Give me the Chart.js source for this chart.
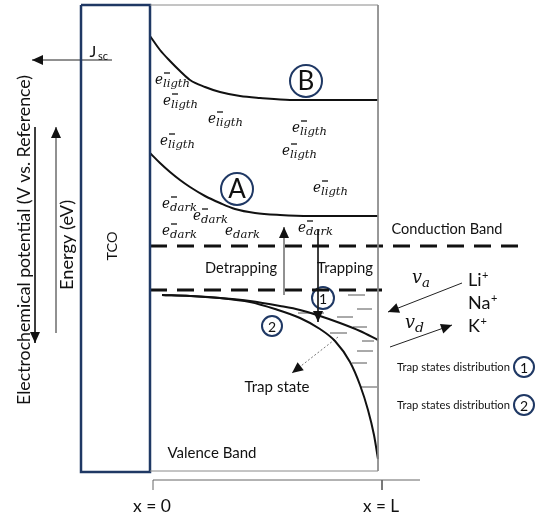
<!DOCTYPE html>
<html>
<head>
<meta charset="utf-8">
<script src="https://cdn.jsdelivr.net/npm/chart.js@4.4.1/dist/chart.umd.min.js"></script>
<style>
html,body{margin:0;padding:0;background:#fff;}
canvas{display:block;}
</style>
</head>
<body>
<canvas id="c" width="536" height="519"></canvas>
<script>
// ---- data (diagram coordinates: x to the right, y = energy drawn downward) ----
const curveB = [[150,36],[160,50],[170,61],[180,71],[190,80],[205,87],[220,92],[240,96],[260,98],[290,100],[378,100]];
const curveA = [[150,153],[160,163],[170,172],[180,180],[190,187],[205,196],[220,203],[235,209],[255,213],[280,215],[310,216],[378,216]];
const trapDist1 = [[162,295],[190,296],[220,298],[250,301],[280,306],[300,310],[320,316],[340,323],[360,331],[378,340]];
const trapDist2 = [[162,295],[190,296],[220,298],[250,302],[275,309],[300,318],[320,329],[335,341],[350,362],[360,385],[368,410],[374,435],[378,459]];
const conductionLevel = [[150,246],[520,246]];
const trapLevel = [[150,290],[382,290]];
const trapStates = [[348,365,295],[357,372,309],[298,324,313],[337,353,317],[353,367,327],[330,347,333],[362,374,341],[357,373,351],[352,367,363],[360,377,387]];
const tcoBox = [[81,5],[150,5],[150,472],[81,472],[81,5]];
const frame = [[150,5],[378,5],[378,471],[150,471]];
const xAxis = [[153,490],[153,480],[420,480]];
const xTickL = [[382,480],[382,490]];
const arrows = {
  jsc: [[112,60],[32,60]],
  potential: [[35,127],[35,343]],
  energy: [[56,333],[56,127]],
  detrap: [[284,295],[284,227]],
  trap: [[318,229],[318,322]],
  va: [[462,283],[388,312]],
  vd: [[390,347],[452,325]]
};
const trapStateArrow = [[338,337],[292,373]];
const circleLabels = ['B','A','1','2','1','2'];
const circlePos = [[306,81],[237,189],[323,298],[272,326],[524,367],[524,405]];
const circleR = [16,16,11,10,10,10];
const eLightPos = [[155,84],[163,105],[208,123],[160,145],[292,132],[282,155],[313,192]];
const eDarkPos = [[162,208,true],[193,220,true],[162,235,true],[225,235,false],[298,232,true]];
const ions = ['Li','Na','K'];
const ionY = [280,303,326];

const NAVY = '#1f3864';
const pts = a => a.map(p => ({x:p[0], y:p[1]}));
const lineDs = (data, opt={}) => Object.assign({data, showLine:true, pointRadius:0, borderColor:'#111', borderWidth:1, fill:false, clip:false, tension:0}, opt);

const trapData = [];
trapStates.forEach(t => { trapData.push({x:t[0],y:t[2]},{x:t[1],y:t[2]},{x:t[1],y:null}); });

const datasets = [
  lineDs(pts(frame), {borderColor:'#8a8a8a', borderWidth:1}),
  lineDs(pts(xAxis), {borderColor:'#666', borderWidth:1}),
  lineDs(pts(xTickL), {borderColor:'#666', borderWidth:1}),
  lineDs(pts(tcoBox), {borderColor:NAVY, borderWidth:2.5}),
  lineDs(pts(curveB), {borderWidth:2, cubicInterpolationMode:'monotone'}),
  lineDs(pts(curveA), {borderWidth:2, cubicInterpolationMode:'monotone'}),
  lineDs(pts(trapDist1), {borderWidth:2, cubicInterpolationMode:'monotone'}),
  lineDs(pts(trapDist2), {borderWidth:2, cubicInterpolationMode:'monotone'}),
  lineDs(pts(conductionLevel), {borderWidth:3, borderDash:[17,10]}),
  lineDs(pts(trapLevel), {borderWidth:3, borderDash:[17,10]}),
  lineDs(trapData, {borderColor:'#555', borderWidth:1, spanGaps:false}),
  lineDs(pts(trapStateArrow), {borderColor:'#777', borderWidth:1, borderDash:[2,2], arrow:true}),
];
Object.keys(arrows).forEach(k => datasets.push(lineDs(pts(arrows[k]), {borderColor:'#222', borderWidth:1, arrow:true})));
circlePos.forEach((c,i) => datasets.push({data:[{x:c[0],y:c[1]}], showLine:false, pointStyle:'circle', pointRadius:circleR[i], pointBorderWidth:2, pointBorderColor:NAVY, pointBackgroundColor:'rgba(255,255,255,0)', clip:false}));

function txt(ctx, s, x, y, font, o={}) {
  ctx.save();
  ctx.font = font;
  ctx.fillStyle = o.color || '#111';
  ctx.textAlign = o.align || 'center';
  ctx.textBaseline = o.base || 'middle';
  ctx.translate(x, y);
  if (o.rot) ctx.rotate(o.rot);
  if (o.w) { const m = ctx.measureText(s).width; ctx.scale(o.w/m, 1); }
  ctx.fillText(s, 0, 0);
  ctx.restore();
}

const drawPlugin = {
  id:'diagram',
  afterDatasetsDraw(chart) {
    const ctx = chart.ctx, X = v => chart.scales.x.getPixelForValue(v), Y = v => chart.scales.y.getPixelForValue(v);
    // arrowheads
    chart.data.datasets.forEach(ds => {
      if (!ds.arrow) return;
      const n = ds.data.length, a = ds.data[n-2], b = ds.data[n-1];
      const x1 = X(a.x), y1 = Y(a.y), x2 = X(b.x), y2 = Y(b.y);
      const ang = Math.atan2(y2-y1, x2-x1), L = 11, W = 5;
      ctx.save();
      ctx.fillStyle = '#111';
      ctx.translate(x2, y2); ctx.rotate(ang);
      ctx.beginPath(); ctx.moveTo(0,0); ctx.lineTo(-L, -W); ctx.lineTo(-L, W); ctx.closePath(); ctx.fill();
      ctx.restore();
    });
    const SANS = 'Lato, "Open Sans", sans-serif';
    // circle labels
    circlePos.forEach((c,i) => {
      const big = circleR[i] > 12;
      txt(ctx, circleLabels[i], X(c[0]), Y(c[1]) + 1, (big ? '26px ' : '14px ') + SANS);
    });
    // left side
    txt(ctx, 'Electrochemical potential (V vs. Reference)', X(25), Y(240), '17px ' + SANS, {rot:-Math.PI/2, w:330});
    txt(ctx, 'Energy (eV)', X(68), Y(245), '17px ' + SANS, {rot:-Math.PI/2, w:90});
    txt(ctx, 'TCO', X(113), Y(246), '13px ' + SANS, {rot:-Math.PI/2, w:29});
    txt(ctx, 'J', X(93), Y(52), '16px ' + SANS);
    txt(ctx, 'sc', X(103), Y(56), '11px ' + SANS);
    // band labels
    txt(ctx, 'Conduction Band', X(447), Y(229), '15px ' + SANS, {w:111});
    txt(ctx, 'Detrapping', X(241), Y(268), '15px ' + SANS, {w:72});
    txt(ctx, 'Trapping', X(345), Y(268), '15px ' + SANS, {w:56});
    txt(ctx, 'Trap state', X(277), Y(387), '15px ' + SANS, {w:65});
    txt(ctx, 'Valence Band', X(212), Y(453), '15px ' + SANS, {w:89});
    txt(ctx, 'x = 0', X(152), Y(507), '17px ' + SANS, {w:38});
    txt(ctx, 'x = L', X(381), Y(507), '17px ' + SANS, {w:36});
    txt(ctx, 'Trap states distribution', X(397), Y(367), '12px ' + SANS, {align:'left', w:113});
    txt(ctx, 'Trap states distribution', X(397), Y(405), '12px ' + SANS, {align:'left', w:113});
    // ions
    ions.forEach((s,i) => {
      ctx.save(); ctx.font = '18px ' + SANS; const w = ctx.measureText(s).width; ctx.restore();
      txt(ctx, s, X(468), Y(ionY[i]), '18px ' + SANS, {align:'left'});
      txt(ctx, '+', X(468) + w + 0.5, Y(ionY[i]) - 5, '11px ' + SANS, {align:'left'});
    });
    // velocities (math italic)
    const SERIF = 'italic 19px "DejaVu Serif", serif';
    txt(ctx, 'v', X(412), Y(283), SERIF, {align:'left', base:'alphabetic', w:10});
    txt(ctx, 'a', X(422), Y(287), 'italic 13px "DejaVu Serif", serif', {align:'left', base:'alphabetic', w:8});
    txt(ctx, 'v', X(405), Y(328), SERIF, {align:'left', base:'alphabetic', w:10});
    txt(ctx, 'd', X(415), Y(332), 'italic 13px "DejaVu Serif", serif', {align:'left', base:'alphabetic', w:9});
    // electron labels
    const eLabel = (x, y, sub, bar, subW) => {
      txt(ctx, 'e', X(x), Y(y), 'italic 15px "DejaVu Serif", serif', {align:'left', base:'alphabetic', w:8});
      txt(ctx, sub, X(x) + 8, Y(y) + 3, 'italic 11px "DejaVu Serif", serif', {align:'left', base:'alphabetic', w:subW});
      if (bar) {
        ctx.save(); ctx.strokeStyle = '#111'; ctx.lineWidth = 1.3;
        ctx.beginPath(); ctx.moveTo(X(x) + 9, Y(y) - 11); ctx.lineTo(X(x) + 15, Y(y) - 11); ctx.stroke(); ctx.restore();
      }
    };
    eLightPos.forEach(p => eLabel(p[0], p[1], 'ligth', true, 27));
    eDarkPos.forEach(p => eLabel(p[0], p[1], 'dark', p[2], 27));
  }
};

new Chart(document.getElementById('c'), {
  type:'scatter',
  data:{datasets},
  options:{
    responsive:false, animation:false, events:[],
    layout:{padding:0, autoPadding:false},
    plugins:{legend:{display:false}, tooltip:{enabled:false}},
    scales:{
      x:{type:'linear', min:0, max:536, display:false},
      y:{type:'linear', min:0, max:519, reverse:true, display:false}
    }
  },
  plugins:[drawPlugin]
});
</script>
</body>
</html>
